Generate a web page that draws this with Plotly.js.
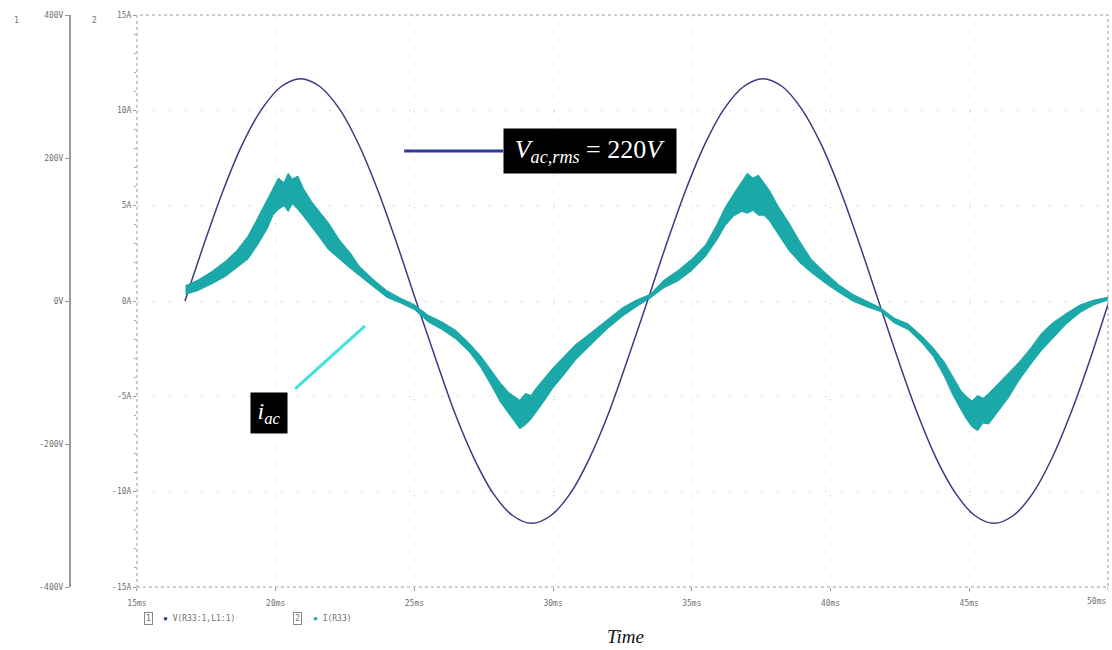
<!DOCTYPE html>
<html>
<head>
<meta charset="utf-8">
<script src="https://cdn.plot.ly/plotly-3.0.1.min.js"></script>
<style>html,body{margin:0;padding:0;background:#fff;}#chart{width:1112px;height:650px;}</style>
</head>
<body>
<div id="chart"></div>
<script>
// ---- Data ----
// Voltage V(R33:1,L1:1), time in ms, value in V
const voltT = [16.73,17.42,18.12,18.81,19.51,20.2,20.9,21.59,22.29,22.98,23.67,24.37,25.06,25.76,26.45,27.15,27.84,28.54,29.23,29.92,30.62,31.31,32.01,32.7,33.4,34.09,34.79,35.48,36.17,36.87,37.56,38.26,38.95,39.65,40.34,41.04,41.73,42.42,43.12,43.81,44.51,45.2,45.9,46.59,47.29,47.98,48.67,49.37,50.0];
const voltV = [0,80,156,220,269,300,311,300,269,220,156,80,0,-80,-156,-220,-269,-300,-311,-300,-269,-220,-156,-80,0,80,156,220,269,300,311,300,269,220,156,80,0,-80,-156,-220,-269,-300,-311,-300,-269,-220,-156,-80,-5];

// Current I(R33): time in ms, upper and lower edge of the ripple band in A
const curT  = [16.75,17.2,17.7,18.2,18.6,19.0,19.35,19.7,19.9,20.1,20.3,20.45,20.6,20.8,21.0,21.3,21.6,21.9,22.3,22.7,23.0,23.5,24.0,24.5,25.0,
               25.5,26.0,26.5,27.0,27.4,27.8,28.1,28.4,28.6,28.8,29.0,29.2,29.4,29.7,30.0,30.4,30.8,31.2,31.6,32.0,32.5,33.0,33.5,
               34.0,34.5,35.0,35.5,35.9,36.2,36.5,36.8,37.0,37.2,37.4,37.6,37.8,38.1,38.5,38.9,39.3,39.8,40.3,40.8,41.3,41.8,
               42.3,42.8,43.3,43.7,44.1,44.4,44.7,44.9,45.1,45.3,45.5,45.7,46.0,46.4,46.8,47.2,47.6,48.0,48.5,49.0,49.5,50.0];
const curHi = [0.8,1.1,1.55,2.1,2.65,3.4,4.35,5.3,5.9,6.45,6.2,6.7,6.4,6.55,5.9,5.2,4.65,4.1,3.2,2.5,1.85,1.15,0.55,0.15,-0.2,
               -0.75,-1.1,-1.55,-2.25,-2.9,-3.7,-4.3,-4.8,-5.0,-5.2,-4.85,-4.95,-4.55,-4.05,-3.5,-2.9,-2.3,-1.85,-1.4,-0.95,-0.35,0.05,0.35,
               1.1,1.6,2.2,2.95,4.0,4.9,5.6,6.3,6.7,6.45,6.6,6.2,5.8,5.0,4.1,3.1,2.2,1.5,0.85,0.35,0.0,-0.35,
               -0.9,-1.2,-1.85,-2.45,-3.2,-3.95,-4.7,-5.0,-5.25,-4.95,-5.1,-4.85,-4.4,-3.75,-3.2,-2.5,-1.7,-1.15,-0.65,-0.2,0.05,0.2];
const curLo = [0.35,0.55,0.9,1.3,1.75,2.2,2.95,3.8,4.5,4.8,5.0,4.7,5.1,4.8,4.45,3.9,3.3,2.7,2.2,1.7,1.35,0.8,0.2,-0.1,-0.45,
               -1.1,-1.5,-2.0,-2.7,-3.5,-4.5,-5.3,-5.9,-6.3,-6.7,-6.5,-6.2,-5.8,-5.2,-4.55,-3.85,-3.1,-2.5,-1.95,-1.4,-0.8,-0.3,0.15,
               0.7,1.05,1.6,2.35,3.2,3.95,4.45,4.7,4.6,4.75,4.5,4.5,4.2,3.5,2.65,2.0,1.5,0.95,0.45,0.0,-0.3,-0.55,
               -1.15,-1.5,-2.2,-2.9,-3.95,-4.9,-5.7,-6.2,-6.6,-6.8,-6.4,-6.45,-5.85,-5.1,-4.15,-3.35,-2.6,-1.95,-1.2,-0.6,-0.2,0.05];

// Tick labels
const timeTicks = [15,20,25,30,35,40,45,50];
const timeLabels = ["15ms","20ms","25ms","30ms","35ms","40ms","45ms","50ms"];
const ampTicks = [-15,-10,-5,0,5,10,15];
const ampLabels = ["-15A","-10A","-5A","0A","5A","10A","15A"];
const voltTicks = [-400,-200,0,200,400];
const voltLabels = ["-400V","-200V","0V","200V","400V"];

// ---- Build traces ----
const bandX = curT.concat(curT.slice().reverse());
const bandY = curHi.concat(curLo.slice().reverse());

const tickFont = {family: "DejaVu Sans Mono, monospace", size: 8, color: "#707070"};

const traces = [
  {x: bandX, y: bandY, yaxis: "y2", type: "scatter", mode: "lines",
   fill: "toself", fillcolor: "#1ba8a8", line: {color: "#1ba8a8", width: 1},
   hoverinfo: "skip", showlegend: false},
  {x: voltT, y: voltV, yaxis: "y", type: "scatter", mode: "lines",
   line: {color: "#3b3a84", width: 1.5, shape: "spline", smoothing: 1},
   showlegend: false}
];

// last time label sits inside the right edge (it would overflow the page if centred)
const lastIdx = timeTicks.length - 1;

const layout = {
  width: 1112, height: 650,
  margin: {l: 70, r: 4, t: 15, b: 63},
  paper_bgcolor: "#fff", plot_bgcolor: "#fff",
  showlegend: false,
  xaxis: {
    domain: [0.0645, 1], range: [14.999, 50.002], anchor: "y2",
    tickvals: timeTicks.slice(0, lastIdx), ticktext: timeLabels.slice(0, lastIdx), tickfont: tickFont,
    showgrid: true, gridcolor: "#d6d6d6", griddash: "2px,14px", gridwidth: 1,
    zeroline: false, showline: false,
    ticks: "outside", ticklen: 3, tickcolor: "#999", ticklabelstandoff: 5
  },
  yaxis: {
    range: [-400, 400], anchor: "free", position: 0,
    tickvals: voltTicks, ticktext: voltLabels, tickfont: tickFont,
    showgrid: false, zeroline: false,
    showline: true, linecolor: "#9a9a9a", linewidth: 2,
    ticks: "outside", ticklen: 4, tickcolor: "#9a9a9a"
  },
  yaxis2: {
    range: [-15, 15], overlaying: "y", anchor: "x", side: "left",
    tickvals: ampTicks, ticktext: ampLabels, tickfont: tickFont,
    showgrid: true, gridcolor: "#d6d6d6", griddash: "2px,14px", gridwidth: 1,
    zeroline: false, showline: false,
    ticks: "outside", ticklen: 3, tickcolor: "#999",
    minor: {dtick: 1, ticks: "outside", ticklen: 2, tickcolor: "#aaa", showgrid: false}
  },
  shapes: [
    {type: "rect", xref: "x domain", yref: "y2 domain", x0: 0, x1: 1, y0: 0, y1: 1,
     line: {color: "#9a9a9a", width: 1, dash: "dot"}, layer: "below"},
    {type: "line", xref: "x", yref: "paper", x0: timeTicks[lastIdx], x1: timeTicks[lastIdx], y0: 0, y1: -0.005,
     line: {color: "#999", width: 1}},
    {type: "line", xref: "x", yref: "y2", x0: 24.63, x1: 28.2, y0: 7.87, y1: 7.87,
     line: {color: "#2b3a9c", width: 3}},
    {type: "line", xref: "x", yref: "y2", x0: 20.7, x1: 23.22, y0: -4.61, y1: -1.31,
     line: {color: "#41e2e0", width: 3}}
  ],
  annotations: [
    {xref: "x", yref: "paper", x: timeTicks[lastIdx], y: -0.0245, xanchor: "right", yanchor: "middle",
     showarrow: false, text: timeLabels[lastIdx], font: tickFont},
    {xref: "x", yref: "y2", x: 31.33, y: 7.87, showarrow: false,
     text: "<i>V</i><sub><i>ac,rms</i></sub> = 220<i>V</i>",
     font: {family: "Liberation Serif, serif", size: 26, color: "#fff"},
     bgcolor: "#000", width: 170, height: 42},
    {xref: "x", yref: "y2", x: 19.76, y: -5.87, showarrow: false,
     text: "<i>i</i><sub><i>ac</i></sub>",
     font: {family: "Liberation Serif, serif", size: 24, color: "#fff"},
     bgcolor: "#000", width: 34, height: 38},
    {xref: "paper", yref: "paper", x: -0.056, y: 0.991, yanchor: "middle", showarrow: false,
     text: "1", font: tickFont},
    {xref: "paper", yref: "paper", x: 0.019, y: 0.991, yanchor: "middle", showarrow: false,
     text: "2", font: tickFont},
    {xref: "paper", yref: "paper", x: 0.0713, y: -0.055, yanchor: "middle", showarrow: false,
     text: "1", font: tickFont, bordercolor: "#888", borderwidth: 1, borderpad: 1},
    {xref: "paper", yref: "paper", x: 0.088, y: -0.055, yanchor: "middle", xanchor: "left", showarrow: false,
     text: "<span style='color:#3b3a84'>▪</span> V(R33:1,L1:1)", font: tickFont},
    {xref: "paper", yref: "paper", x: 0.2148, y: -0.055, yanchor: "middle", showarrow: false,
     text: "2", font: tickFont, bordercolor: "#888", borderwidth: 1, borderpad: 1},
    {xref: "paper", yref: "paper", x: 0.232, y: -0.055, yanchor: "middle", xanchor: "left", showarrow: false,
     text: "<span style='color:#1ba8a8'>▪</span> I(R33)", font: tickFont},
    {xref: "paper", yref: "paper", x: 0.535, y: -0.086, yanchor: "middle", showarrow: false,
     text: "<i>Time</i>", font: {family: "Liberation Serif, serif", size: 19, color: "#111"}}
  ]
};

Plotly.newPlot("chart", traces, layout, {displayModeBar: false, staticPlot: true});
</script>
</body>
</html>
